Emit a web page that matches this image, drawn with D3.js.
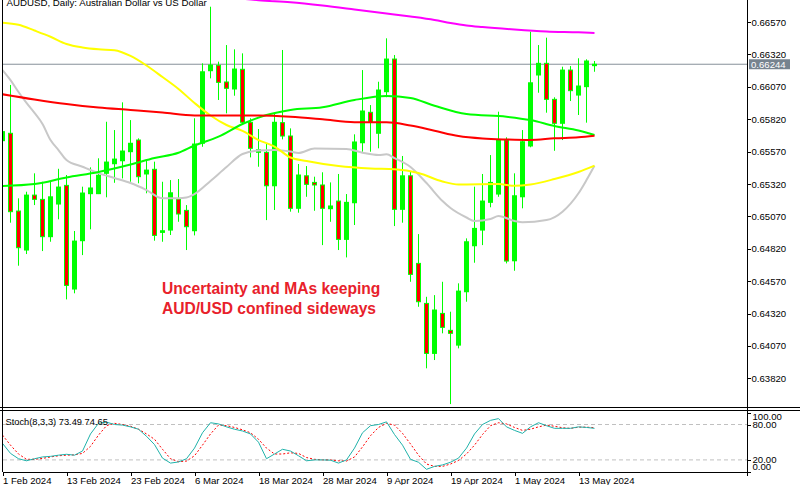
<!DOCTYPE html>
<html><head><meta charset="utf-8">
<script src="https://cdn.jsdelivr.net/npm/d3@7"></script>
<style>
html,body{margin:0;padding:0;background:#fff;}
svg{display:block;font-family:"Liberation Sans",Arial,sans-serif;}
</style>
</head><body>
<svg id="c" width="800" height="485"></svg>
<script>
// ---------------- DATA ----------------
const chartTitle = "AUDUSD, Daily:  Australian Dollar vs US Dollar";
const stochTitle = "Stoch(8,3,3) 73.49 74.65";
const noteLines = ["Uncertainty and MAs keeping", "AUD/USD confined sideways"];

const dateTickBars = [0, 8, 16, 24, 32, 40, 48, 56, 64, 72];
const dateTickLabels = ["1 Feb 2024", "13 Feb 2024", "23 Feb 2024", "6 Mar 2024", "18 Mar 2024",
  "28 Mar 2024", "9 Apr 2024", "19 Apr 2024", "1 May 2024", "13 May 2024"];

const priceTicks = [0.66570, 0.66320, 0.66070, 0.65820, 0.65570, 0.65320, 0.65070,
  0.64820, 0.64570, 0.64320, 0.64070, 0.63820];
const lastPrice = 0.66244;

const open = [0.65654,0.65711,0.65111,0.64810,0.65234,0.65201,0.64913,0.65165,0.65309,0.64509,
  0.64882,0.65245,0.65245,0.65402,0.65476,0.65499,0.65569,0.65659,0.65397,0.65433,
  0.64946,0.64964,0.65204,0.65116,0.64959,0.65634,0.66194,0.66236,0.66107,0.66053,
  0.66205,0.65796,0.65564,0.65564,0.65306,0.65793,0.65690,0.65132,0.65383,0.65332,
  0.65312,0.65129,0.65188,0.64892,0.65175,0.65638,0.65873,0.65711,0.66032,0.66284,
  0.65124,0.65383,0.64707,0.64398,0.64012,0.64321,0.64190,0.64076,0.64488,0.64843,
  0.64964,0.65178,0.65242,0.65659,0.64727,0.65221,0.65613,0.66161,0.66251,0.65973,
  0.65788,0.66199,0.66006,0.66071,0.66233];
const high = [0.65775,0.66084,0.65209,0.65260,0.65402,0.65337,0.65345,0.65437,0.65389,0.64957,
  0.65299,0.65448,0.65518,0.65800,0.65736,0.65950,0.65813,0.65672,0.65505,0.65492,
  0.65337,0.65350,0.65358,0.65157,0.65827,0.66251,0.66688,0.66264,0.66392,0.66359,
  0.66328,0.65827,0.65744,0.65634,0.65865,0.66354,0.65749,0.65474,0.65458,0.65376,
  0.65410,0.65332,0.65397,0.65242,0.65703,0.66199,0.65929,0.66109,0.66444,0.66315,
  0.65536,0.65414,0.64933,0.64449,0.64462,0.64565,0.64334,0.64553,0.64900,0.65299,
  0.65397,0.65543,0.65878,0.65680,0.65402,0.65736,0.66495,0.66392,0.66449,0.65989,
  0.66225,0.66230,0.66290,0.66282,0.66269];
const low = [0.65621,0.65021,0.64689,0.64779,0.65157,0.64802,0.64874,0.65047,0.64429,0.64476,
  0.64771,0.64970,0.65242,0.65217,0.65329,0.65363,0.65337,0.65325,0.65248,0.64882,
  0.64874,0.64926,0.65028,0.64810,0.64923,0.65607,0.66135,0.65968,0.65865,0.66001,
  0.65788,0.65525,0.65453,0.65041,0.65119,0.65664,0.65106,0.65098,0.65221,0.65113,
  0.64848,0.65028,0.64810,0.64753,0.65003,0.65569,0.65569,0.65595,0.65989,0.64995,
  0.65021,0.64565,0.64372,0.63897,0.63961,0.64167,0.63621,0.64051,0.64411,0.64712,
  0.64848,0.65140,0.65221,0.64707,0.64650,0.65132,0.65603,0.66024,0.65870,0.65576,
  0.65659,0.65960,0.65852,0.65793,0.66186];
const close = [0.65724,0.65106,0.64828,0.65234,0.65201,0.64913,0.65221,0.65296,0.64537,0.64879,
  0.65250,0.65289,0.65387,0.65489,0.65512,0.65574,0.65634,0.65376,0.65427,0.64923,
  0.64959,0.65252,0.65088,0.64990,0.65628,0.66186,0.66238,0.66104,0.66058,0.66207,
  0.65796,0.65595,0.65584,0.65306,0.65796,0.65690,0.65132,0.65389,0.65317,0.65312,
  0.65132,0.65150,0.64892,0.65178,0.65644,0.65883,0.65796,0.66045,0.66284,0.65124,
  0.65383,0.64622,0.64411,0.64012,0.64347,0.64213,0.64167,0.64493,0.64874,0.64977,
  0.65188,0.65332,0.65659,0.64725,0.65229,0.65646,0.66101,0.66251,0.65973,0.65788,
  0.66199,0.66040,0.66076,0.66269,0.66244];

// moving averages, sampled at bar indexes
const maMagentaBars = [28,32,36,40,44,48,51,54,56,58,60,64,68,72,74];
const maMagentaVals = [0.66763,0.66738,0.66722,0.66697,0.66667,0.66636,0.66612,0.66585,0.66562,0.66543,0.66531,0.66512,0.66497,0.66490,0.66485];

const maRedBars = [0,4,8,12,16,20,24,28,32,36,40,44,48,51,54,57,60,63,66,69,72,74];
const maRedVals = [0.66012,0.65972,0.65937,0.65910,0.65891,0.65871,0.65848,0.65848,0.65848,0.65839,0.65819,0.65796,0.65796,0.65771,0.65731,0.65690,0.65671,0.65663,0.65659,0.65672,0.65680,0.65692];

const maGreenBars = [0,4,8,12,16,19,22,24,27,30,33,36,40,44,48,51,54,58,63,66,69,72,74];
const maGreenVals = [0.65304,0.65319,0.65370,0.65412,0.65470,0.65520,0.65561,0.65617,0.65685,0.65783,0.65852,0.65891,0.65912,0.65968,0.65999,0.65983,0.65924,0.65860,0.65839,0.65813,0.65767,0.65732,0.65698];

const maYellowBars = [0,2,4,6,8,10,12,14,16,18,20,22,24,26,28,30,32,34,36,38,42,46,49,52,55,57,62,64,66,69,72,74];
const maYellowVals = [0.66565,0.66549,0.66504,0.66456,0.66400,0.66373,0.66359,0.66352,0.66308,0.66234,0.66145,0.66053,0.65945,0.65848,0.65775,0.65729,0.65659,0.65609,0.65524,0.65497,0.65458,0.65439,0.65433,0.65404,0.65339,0.65316,0.65319,0.65306,0.65316,0.65358,0.65412,0.65461];

const maGrayBars = [0,1,2,3,4,5,6,7,8,10,12,14,16,18,20,22,23,24,26,28,30,32,34,36,37,39,43,45,47,48,49,51,53,55,56,58,59,61,62,64,65,68,70,72,73,74];
const maGrayVals = [0.66199,0.66122,0.66030,0.65945,0.65868,0.65783,0.65659,0.65582,0.65505,0.65453,0.65404,0.65366,0.65327,0.65273,0.65209,0.65209,0.65215,0.65242,0.65343,0.65451,0.65551,0.65578,0.65582,0.65570,0.65559,0.65593,0.65590,0.65561,0.65543,0.65549,0.65520,0.65451,0.65327,0.65188,0.65134,0.65061,0.65034,0.65049,0.65072,0.65034,0.65024,0.65041,0.65106,0.65248,0.65350,0.65461];

// stochastic oscillator (8,3,3)
const stochMain = [48,31,22,18.5,22,25,26,28,29.5,28,
  35,64,82,84,80,79,76,72,60,46,
  23,14.6,16.5,22,40,66,83,81,76,72,
  69,64,50,22,30,38,35,27,18.5,20,
  20,19.5,14.6,20,40,66,78,80,84.5,63,
  45,21,16,4,9,11.5,16,23,40,64,
  80,87,90,76,70,65,76,83,78,73.5,
  73.5,73.5,76,75,73.49];
const stochSignal = [62,45,30,21,21,22.5,25,27,28,28.5,
  31,43,62,78,82,80,77,72,64,55,
  38,22,17,18,27,45,64,79,78,75,
  71,66,55,40,30,30,32,31,24,21,
  20,20,18.5,18,25,42,61,75,82,79,
  65,47,28,13,9,9,13,19,30,45,
  63,78,83,81,75,70,72,76,79,77,
  74.5,73.4,75.5,75.5,74.65];
const stochTicks = [0, 20, 80, 100];
const stochLevels = [20, 80];

// ---------------- DRAW ----------------
const svg = d3.select("#c");
const axisX = 747.5, leftX = 2.5;
const mainBottom = 407.5, stTop = 410.5, stBottom = 472;

const x = d3.scaleLinear().domain([0, 74]).range([2.5, 594.5]);
const y = d3.scaleLinear().domain([0.6382, 0.6657]).range([378.3, 22]);
const ys = d3.scaleLinear().domain([0, 100]).range([471.7, 412.7]);

const defs = svg.append("defs");
defs.append("clipPath").attr("id", "clipMain").append("rect")
  .attr("x", 3).attr("y", 0).attr("width", axisX - 3.5).attr("height", mainBottom - 0.5);
defs.append("clipPath").attr("id", "clipSt").append("rect")
  .attr("x", 3).attr("y", stTop + 0.5).attr("width", axisX - 3.5).attr("height", stBottom - stTop - 1);

const main = svg.append("g").attr("clip-path", "url(#clipMain)");

// last price line
main.append("line").attr("x1", 3).attr("x2", axisX)
  .attr("y1", y(lastPrice)).attr("y2", y(lastPrice))
  .attr("stroke", "#87909a").attr("stroke-width", 1);

// candles
const bars = d3.range(open.length).map(i => ({i, o: open[i], h: high[i], l: low[i], c: close[i]}));
const cg = main.append("g");
cg.selectAll("line.wick").data(bars).join("line").attr("class", "wick")
  .attr("x1", d => x(d.i)).attr("x2", d => x(d.i))
  .attr("y1", d => y(d.h)).attr("y2", d => y(d.l))
  .attr("stroke", "#00ff00").attr("stroke-width", 1);
cg.selectAll("rect.body").data(bars).join("rect").attr("class", "body")
  .each(function (d) {
    const top = y(Math.max(d.o, d.c)), bot = y(Math.min(d.o, d.c));
    const r = d3.select(this);
    if (d.c >= d.o) {
      r.attr("x", x(d.i) - 2.5).attr("width", 5)
       .attr("y", top - 0.5).attr("height", Math.max(1, bot - top + 1))
       .attr("fill", "#00ff00").attr("stroke", "none");
    } else {
      r.attr("x", x(d.i) - 2).attr("width", 4)
       .attr("y", top).attr("height", Math.max(1, bot - top))
       .attr("fill", "#ff0000").attr("stroke", "#00ff00").attr("stroke-width", 1);
    }
  });

// moving averages
const maLine = d3.line().x(d => x(d[0])).y(d => y(d[1])).curve(d3.curveMonotoneX);
const mas = [
  [maGrayBars, maGrayVals, "#c8c8c8"],
  [maYellowBars, maYellowVals, "#ffff00"],
  [maGreenBars, maGreenVals, "#00ff00"],
  [maRedBars, maRedVals, "#ff0000"],
  [maMagentaBars, maMagentaVals, "#ff00ff"]
];
mas.forEach(([b, v, col]) => {
  main.append("path").datum(b.map((bi, k) => [bi, v[k]]))
    .attr("d", maLine).attr("fill", "none").attr("stroke", col).attr("stroke-width", 2);
});

// annotation
const note = svg.append("g").attr("font-weight", "bold").attr("font-size", 15.6).attr("fill", "#e8212b");
noteLines.forEach((t, k) => note.append("text").attr("x", 162).attr("y", 293.5 + k * 20).text(t));

// title
svg.append("text").attr("x", 6.5).attr("y", 6).attr("font-size", 9.7).attr("fill", "#000").text(chartTitle);

// stochastic subwindow
const st = svg.append("g").attr("clip-path", "url(#clipSt)");
st.selectAll("line.lvl").data(stochLevels).join("line").attr("class", "lvl")
  .attr("x1", 3).attr("x2", axisX).attr("y1", d => ys(d)).attr("y2", d => ys(d))
  .attr("stroke", "#c0c0c0").attr("stroke-dasharray", "4,3").attr("stroke-width", 1);
const stLine = d3.line().x((d, i) => x(i)).y(d => ys(d));
st.append("path").datum(stochSignal).attr("d", stLine).attr("fill", "none")
  .attr("stroke", "#ff0000").attr("stroke-width", 1).attr("stroke-dasharray", "2,2");
st.append("path").datum(stochMain).attr("d", stLine).attr("fill", "none")
  .attr("stroke", "#20b2aa").attr("stroke-width", 1);
svg.append("text").attr("x", 5.5).attr("y", 425).attr("font-size", 9.3).attr("fill", "#000").text(stochTitle);

// frames
const frame = svg.append("g").attr("stroke", "#000").attr("stroke-width", 1).attr("shape-rendering", "crispEdges");
frame.append("line").attr("x1", leftX).attr("x2", leftX).attr("y1", 0).attr("y2", stBottom);
frame.append("line").attr("x1", axisX).attr("x2", axisX).attr("y1", 0).attr("y2", 476);
frame.append("line").attr("x1", 0).attr("x2", 800).attr("y1", mainBottom).attr("y2", mainBottom);
frame.append("line").attr("x1", 0).attr("x2", 800).attr("y1", stTop).attr("y2", stTop);
frame.append("line").attr("x1", leftX).attr("x2", axisX).attr("y1", stBottom).attr("y2", stBottom);

// price axis
const pAxis = svg.append("g").attr("transform", `translate(${axisX},0)`)
  .call(d3.axisRight(y).tickValues(priceTicks).tickFormat(d3.format(".5f")).tickSize(3).tickPadding(1).tickSizeOuter(0));
pAxis.select(".domain").remove();
pAxis.selectAll("line").attr("stroke", "#000").attr("shape-rendering", "crispEdges");
pAxis.selectAll("text").attr("font-size", 9.6).attr("font-family", "Liberation Sans, Arial, sans-serif").attr("fill", "#000");

// last price tag
const lp = svg.append("g");
lp.append("rect").attr("x", 749).attr("y", y(lastPrice) - 5).attr("width", 41).attr("height", 10).attr("fill", "#76838f");
lp.append("text").attr("x", 751).attr("y", y(lastPrice)).attr("dy", "0.35em")
  .attr("font-size", 9.6).attr("fill", "#fff").text(d3.format(".5f")(lastPrice));

// stoch axis
const sAxis = svg.append("g").attr("transform", `translate(${axisX},0)`)
  .call(d3.axisRight(ys).tickValues(stochTicks).tickFormat(d3.format(".2f")).tickSize(3).tickPadding(2).tickSizeOuter(0));
sAxis.select(".domain").remove();
sAxis.selectAll("line").attr("stroke", "#000").attr("shape-rendering", "crispEdges");
sAxis.selectAll("text").attr("font-size", 9.6).attr("font-family", "Liberation Sans, Arial, sans-serif").attr("fill", "#000")
  .attr("transform", d => d === 100 ? "translate(0,3.3)" : d === 0 ? "translate(0,-5.5)" : null);

// time axis
const tAxis = svg.append("g").attr("transform", `translate(0,${stBottom})`)
  .call(d3.axisBottom(x).tickValues(dateTickBars).tickFormat((d, i) => dateTickLabels[i]).tickSize(4).tickSizeOuter(0));
tAxis.select(".domain").remove();
tAxis.selectAll("line").attr("stroke", "#000").attr("shape-rendering", "crispEdges");
tAxis.selectAll("text").attr("font-size", 9.6).attr("font-family", "Liberation Sans, Arial, sans-serif").attr("fill", "#000")
  .attr("text-anchor", "start").attr("x", 0).attr("y", 12).attr("dy", null);
</script>
</body></html>
